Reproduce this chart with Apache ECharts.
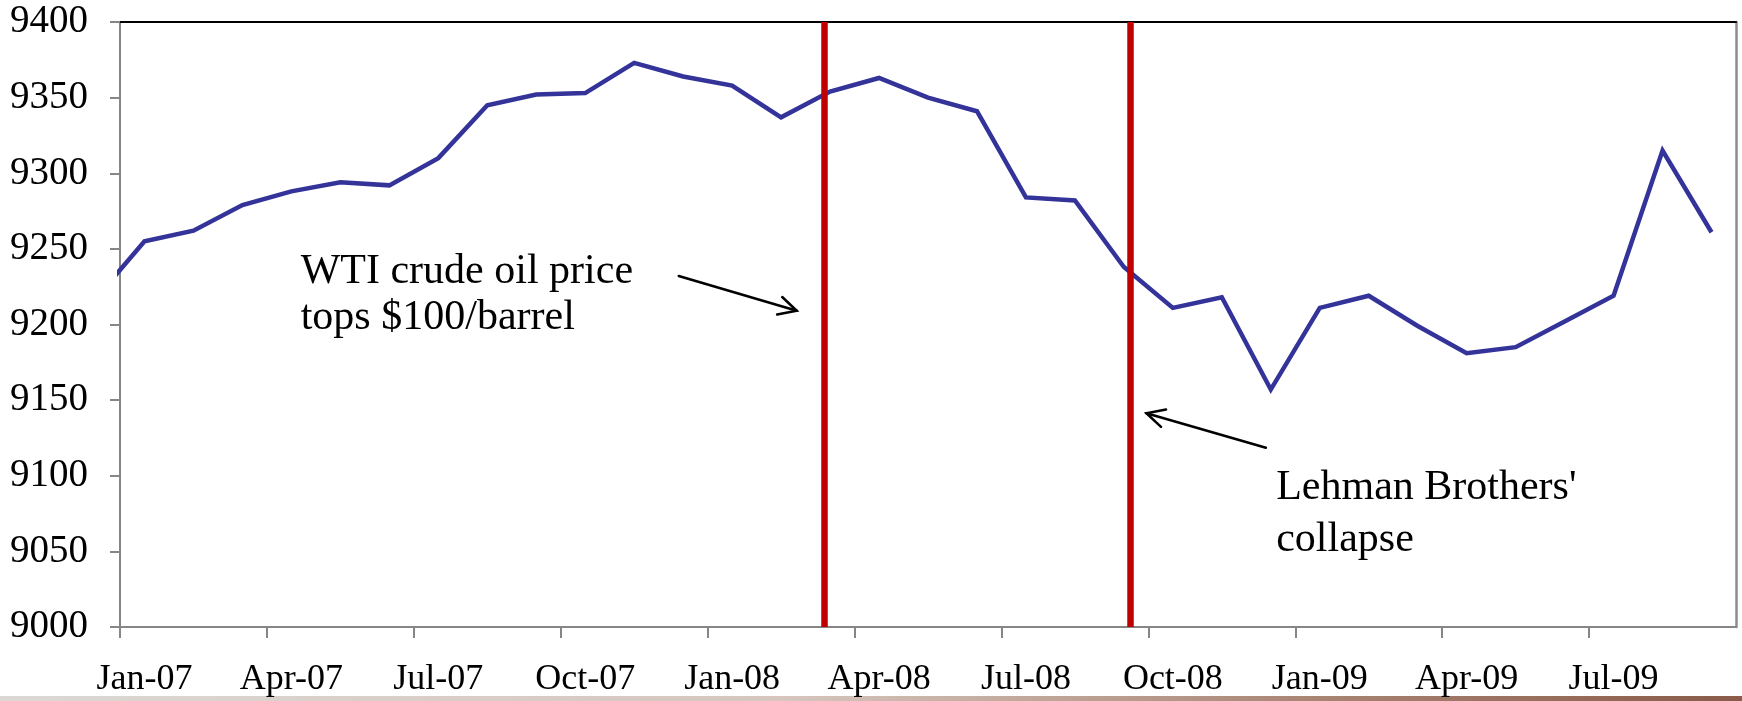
<!DOCTYPE html>
<html>
<head>
<meta charset="utf-8">
<script src="https://cdn.jsdelivr.net/npm/echarts@6/dist/echarts.min.js"></script>
<style>
  html, body { margin: 0; padding: 0; background: #ffffff; }
  #chart { width: 1742px; height: 701px; }
</style>
</head>
<body>
<div id="chart"></div>
<script>
// Monthly index values, Dec-06 through Sep-09
const months = [
  'Dec-06',
  'Jan-07', 'Feb-07', 'Mar-07', 'Apr-07', 'May-07', 'Jun-07',
  'Jul-07', 'Aug-07', 'Sep-07', 'Oct-07', 'Nov-07', 'Dec-07',
  'Jan-08', 'Feb-08', 'Mar-08', 'Apr-08', 'May-08', 'Jun-08',
  'Jul-08', 'Aug-08', 'Sep-08', 'Oct-08', 'Nov-08', 'Dec-08',
  'Jan-09', 'Feb-09', 'Mar-09', 'Apr-09', 'May-09', 'Jun-09',
  'Jul-09', 'Aug-09', 'Sep-09'
];
const values = [
  9217,
  9255, 9262, 9279, 9288, 9294, 9292,
  9310, 9345, 9352, 9353, 9373, 9364,
  9358, 9337, 9354, 9363, 9350, 9341,
  9284, 9282, 9238, 9211, 9218, 9157,
  9211, 9219, 9199, 9181, 9185, 9202,
  9219, 9315, 9261
];

// Quarterly tick labels along the month axis
const tickLabels = [
  'Jan-07', 'Apr-07', 'Jul-07', 'Oct-07', 'Jan-08', 'Apr-08',
  'Jul-08', 'Oct-08', 'Jan-09', 'Apr-09', 'Jul-09'
];

// Events, in months counted from the start of Jan-07
const eventMonths = [14.38, 20.62];
const eventNotes = ['WTI crude oil price\ntops $100/barrel', "Lehman Brothers'\ncollapse"];

// Month axis: 0 = start of Jan-07; each month is plotted at its middle.
const firstMonthOffset = -1; // Dec-06 sits one month before the axis start
const seriesData = values.map((v, i) => [firstMonthOffset + i + 0.5, v]);

const SERIF = '"Liberation Serif", "Times New Roman", serif';
const AXIS_GREY = '#868686';

// Where each note's text and arrow sit, in (month, value) coordinates
const notePlacement = [
  { text: [3.69, 9250.2], from: [11.41, 9232.1], to: [13.82, 9209.1], lineHeight: 46 },
  { text: [23.61, 9109.0], from: [23.40, 9118.5], to: [20.96, 9141.3], lineHeight: 52 }
];

const chart = echarts.init(document.getElementById('chart'), null, { renderer: 'canvas' });

const bottomBar = {
  id: 'bottomBar',
  type: 'rect',
  left: 0,
  bottom: 0,
  z: -1,
  shape: { width: 1742, height: 5 },
  style: {
    fill: new echarts.graphic.LinearGradient(0, 0, 1, 0, [
      { offset: 0, color: '#dcd8d4' },
      { offset: 0.45, color: '#d6c6bd' },
      { offset: 0.75, color: '#a98574' },
      { offset: 1, color: '#8a5b49' }
    ])
  }
};

const option = {
  backgroundColor: '#ffffff',
  animation: false,
  grid: { left: 120, right: 6, top: 22, bottom: 74, containLabel: false },
  xAxis: [
    {
      type: 'value',
      min: 0,
      max: 33,
      interval: 3,
      position: 'bottom',
      axisLine: { show: true, onZero: false, lineStyle: { color: AXIS_GREY, width: 2 } },
      axisTick: { show: true, length: 11, lineStyle: { color: AXIS_GREY, width: 2 } },
      splitLine: { show: false },
      axisLabel: {
        show: true,
        margin: 35,
        color: '#000',
        fontFamily: SERIF,
        fontSize: 36,
        padding: [0, 0, 0, 49],
        showMaxLabel: false,
        formatter: (v) => tickLabels[Math.round(v / 3)] || ''
      }
    },
    {
      type: 'value',
      min: 0,
      max: 33,
      position: 'top',
      axisLine: { show: true, onZero: false, lineStyle: { color: '#000', width: 2 } },
      axisTick: { show: false },
      axisLabel: { show: false },
      splitLine: { show: false }
    }
  ],
  yAxis: [
    {
      type: 'value',
      min: 9000,
      max: 9400,
      interval: 50,
      position: 'left',
      axisLine: { show: true, onZero: false, lineStyle: { color: AXIS_GREY, width: 2 } },
      axisTick: { show: true, length: 10, lineStyle: { color: AXIS_GREY, width: 2 } },
      splitLine: { show: false },
      axisLabel: {
        margin: 32,
        color: '#000',
        fontFamily: SERIF,
        fontSize: 39,
        formatter: (v) => String(v)
      }
    },
    {
      type: 'value',
      min: 9000,
      max: 9400,
      position: 'right',
      axisLine: { show: true, onZero: false, lineStyle: { color: '#8c8c8c', width: 2.5 } },
      axisTick: { show: false },
      axisLabel: { show: false },
      splitLine: { show: false }
    }
  ],
  series: [
    {
      name: 'Index',
      type: 'line',
      xAxisIndex: 0,
      yAxisIndex: 0,
      data: seriesData,
      clip: true,
      showSymbol: false,
      symbol: 'none',
      lineStyle: { color: '#333399', width: 4.5, join: 'miter' },
      z: 3,
      markLine: {
        silent: true,
        symbol: ['none', 'none'],
        label: { show: false },
        lineStyle: { color: '#c00000', width: 6.5, type: 'solid' },
        data: eventMonths.map((m) => ({ xAxis: m }))
      }
    }
  ],
  graphic: [bottomBar]
};

chart.setOption(option);

// Notes and arrows, placed through the chart's own scales
function toPx(p) {
  return chart.convertToPixel({ xAxisIndex: 0, yAxisIndex: 0 }, p);
}

function arrowElements(fromPt, toPt, idx) {
  const a = toPx(fromPt);
  const b = toPx(toPt);
  const ang = Math.atan2(b[1] - a[1], b[0] - a[0]);
  const head = 20;
  const spread = 27 * Math.PI / 180;
  const h1 = [b[0] - head * Math.cos(ang - spread), b[1] - head * Math.sin(ang - spread)];
  const h2 = [b[0] - head * Math.cos(ang + spread), b[1] - head * Math.sin(ang + spread)];
  const style = { stroke: '#000', lineWidth: 2.5, fill: null, lineCap: 'round', lineJoin: 'miter' };
  return [
    { id: 'arrowShaft' + idx, type: 'polyline', z: 10, shape: { points: [a, b] }, style },
    { id: 'arrowHead' + idx, type: 'polyline', z: 10, shape: { points: [h1, b, h2] }, style }
  ];
}

const noteElements = [];
notePlacement.forEach((p, i) => {
  const t = toPx(p.text);
  noteElements.push({
    id: 'note' + i,
    type: 'text',
    z: 10,
    x: t[0],
    y: t[1],
    style: {
      text: eventNotes[i],
      fill: '#000',
      font: '42px ' + SERIF,
      fontSize: 42,
      fontFamily: SERIF,
      lineHeight: p.lineHeight,
      align: 'left',
      verticalAlign: 'top'
    }
  });
  noteElements.push(...arrowElements(p.from, p.to, i));
});

chart.setOption({ graphic: [bottomBar].concat(noteElements) });
</script>
</body>
</html>
